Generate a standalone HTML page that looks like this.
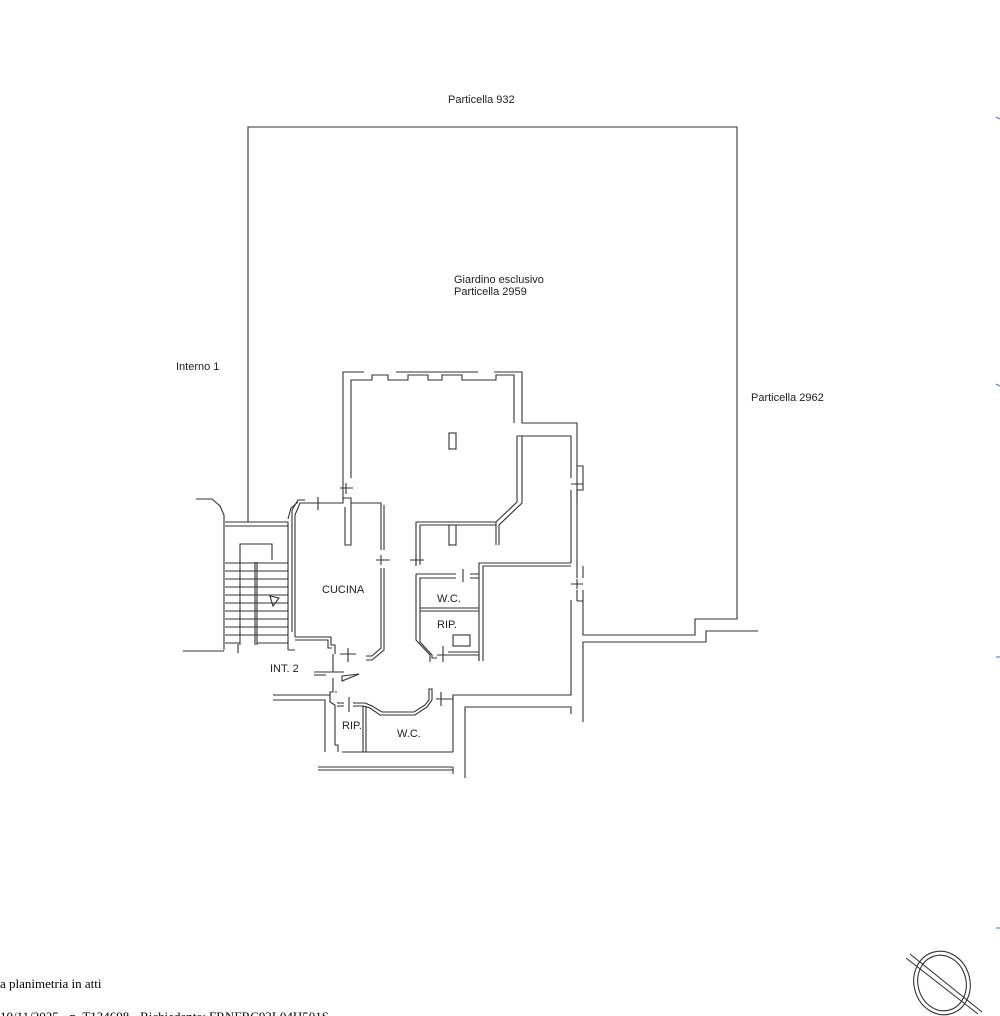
<!DOCTYPE html>
<html><head><meta charset="utf-8"><style>
html,body{margin:0;padding:0;background:#fff;width:1000px;height:1016px;overflow:hidden}
svg{display:block}
text{font-family:"Liberation Sans",sans-serif;font-size:11px;fill:#222}
</style></head><body>
<svg width="1000" height="1016" viewBox="0 0 1000 1016" xmlns="http://www.w3.org/2000/svg">
<g fill="none" stroke="#333" stroke-width="1.1">
<!-- garden outline -->
<path d="M248,522V127H737V619H695V635H583V601H577"/>
<path d="M758,631H706V642H583V722"/>
<!-- main living room -->
<path d="M351,478V380H372V375H388V380H408V375H428V380H442V375H462V380H496V375H514V423"/>
<path d="M343,478V372H364M396,372H478M494,372H522V423H577V466"/>
<path d="M517,436H571V466"/>
<path d="M517,436V502L496,522V545"/>
<path d="M522,436V503L499,525V545"/>
<path d="M416,565V522H496"/>
<path d="M420,565V525H496"/>
<rect x="449" y="433" width="7" height="16"/>
<rect x="449" y="525" width="7" height="20"/>
<!-- right column walls -->
<path d="M571,466V478M577,478V466"/>
<path d="M571,490V563M577,563V490H583V466H577"/>
<path d="M577,490V502"/>
<path d="M571,563H479V661M483,661V566H571"/>
<path d="M571,600V695H453V752"/>
<path d="M577,563V578M583,566V578M577,590V601M583,590V601"/>
<path d="M571,584H583M577,579V589"/>
<path d="M571,484H583M577,478V490"/>
<path d="M465,778V707H571V714"/>
<!-- wc/rip east -->
<path d="M420,634V578H456M470,578H479"/>
<path d="M416,574H456M470,574H479"/>
<path d="M463,569V582"/>
<path d="M420,608H479M420,611H479"/>
<path d="M416,574V640L430,655V662M420,634V642L432,655V658H437"/>
<path d="M448,655H479V661M448,652H479"/>
<path d="M443,646V662M437,655H448"/>
<rect x="453" y="635" width="17" height="11"/>
<path d="M410,560H424M416,554V566"/>
<!-- kitchen -->
<path d="M295,637V515L300,503H312M325,503H343V498H351V507M351,503H381V550M381,568V648L372,656H366"/>
<path d="M292,632V510L298,500H305M343,478V500M345,507V545H351V507"/>
<path d="M384,550V505M384,568V650L372,660H366"/>
<path d="M376,560H390M381,555V565"/>
<path d="M312,503H325M318,497V510"/>
<path d="M340,488H353M346,483V494"/>
<path d="M295,637H331V645H335V654M340,654H356M348,648V662"/>
<path d="M295,640H328V648H332"/>
<!-- stairs -->
<path d="M196,499H212L220,506L224,515V650M225,522H288V650M225,526H288"/>
<path d="M288,519L291,508L298,502"/>
<path d="M183,651H224M288,650H295"/>
<path d="M240,645V544H272V560M257,645V562M255,645V562"/>
<path d="M225,563H288M225,571H288M225,579H288M225,587H288M225,595H288M225,603H288M225,611H288M225,619H288M225,627H288M225,635H288M225,643H240M257,643H288"/>
<path d="M270,596L279,598L273,606Z"/>
<path d="M238,644V653"/>
<!-- entrance -->
<path d="M333,654V672M333,678V692H330V697M337,692H335"/>
<path d="M314,672H344M314,675H326"/>
<path d="M342,676L359,674L342,681Z"/>
<path d="M273,695H330V702M273,700H325V752M330,702L335,705V745H338V752"/>
<path d="M337,703H344M353,703H365L372,706L382,712H414L425,705L429,700V689H432V700M337,706H344M353,706H363L370,708L380,715H415L427,707L432,700"/>
<path d="M349,697V712M441,692V706"/>
<path d="M436,699H453V695"/>
<path d="M363,706V752M366,706V752M342,752H453"/>
<path d="M318,767H453M318,770H453M453,767V774"/>
<!-- compass -->
<ellipse cx="942" cy="983" rx="28" ry="32" transform="rotate(-15 942 983)"/>
<ellipse cx="942" cy="983" rx="24" ry="28" transform="rotate(-15 942 983)"/>
<path d="M906,958L978,1014M910,954L982,1012"/>
</g>
<g stroke="#4466cc" stroke-width="1">
<path d="M996,117L1000,119M996,384L1000,386M996,657H1000M996,928H1000"/>
</g>
<text x="448" y="103">Particella 932</text>
<text x="454" y="283">Giardino esclusivo</text>
<text x="454" y="295">Particella 2959</text>
<text x="176" y="370">Interno 1</text>
<text x="751" y="401">Particella 2962</text>
<text x="322" y="593">CUCINA</text>
<text x="437" y="602">W.C.</text>
<text x="437" y="628">RIP.</text>
<text x="270" y="672">INT. 2</text>
<text x="342" y="729">RIP.</text>
<text x="397" y="737">W.C.</text>
<text x="0" y="988" style="font-family:'Liberation Serif',serif;font-size:13px;fill:#000">a planimetria in atti</text>
<text x="0" y="1021" style="font-family:'Liberation Serif',serif;font-size:13px;fill:#000">10/11/2025 - n. T134698 - Richiedente: FRNFRC93L04H501S</text>
</svg>
</body></html>
